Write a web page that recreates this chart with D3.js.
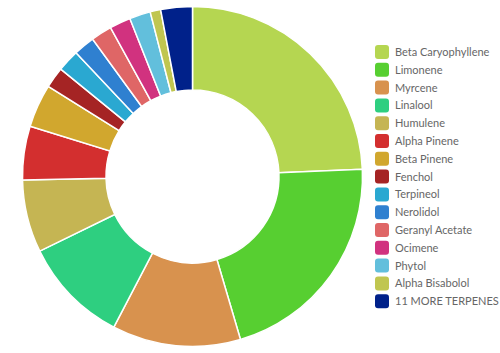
<!DOCTYPE html>
<html>
<head>
<meta charset="utf-8">
<script src="https://cdn.jsdelivr.net/npm/d3@7"></script>
<style>
  body { margin: 0; background: #fff; }
  svg { display: block; font-family: Lato, "Open Sans", sans-serif; }
</style>
</head>
<body>
<div id="chart"></div>
<script>
const terpenes = [
  "Beta Caryophyllene", "Limonene", "Myrcene", "Linalool", "Humulene",
  "Alpha Pinene", "Beta Pinene", "Fenchol", "Terpineol", "Nerolidol",
  "Geranyl Acetate", "Ocimene", "Phytol", "Alpha Bisabolol", "11 MORE TERPENES"
];
const shares = [24.3, 21.1, 12.2, 10.1, 6.9, 5.1, 4.1, 2.0, 2.1, 2.0, 2.0, 2.0, 2.0, 1.0, 3.0];
const colors = [
  "#b5d651", "#57cf31", "#d8924e", "#2ecf80", "#c5b553",
  "#d32f2f", "#d1a72e", "#a52424", "#2aa8d1", "#2f80d0",
  "#df6666", "#d1327f", "#62bfdc", "#c0c650", "#00218a"
];

(function () {
  const width = 500, height = 353;
  const cx = 192.5, cy = 176.5;
  const outerR = 170, innerR = 86.5;

  const svg = d3.select("#chart").append("svg")
    .attr("width", width)
    .attr("height", height);

  const data = terpenes.map((name, i) => ({ name, value: shares[i], color: colors[i] }));

  const pie = d3.pie().value(d => d.value).sort(null);
  const arc = d3.arc().innerRadius(innerR).outerRadius(outerR);

  const g = svg.append("g").attr("transform", `translate(${cx},${cy})`);

  g.selectAll("path")
    .data(pie(data))
    .join("path")
    .attr("d", arc)
    .attr("fill", d => d.data.color)
    .attr("stroke", "#fff")
    .attr("stroke-width", 1.5);

  // Legend
  const legend = svg.append("g").attr("transform", "translate(375, 45)");
  const row = legend.selectAll("g")
    .data(data)
    .join("g")
    .attr("transform", (d, i) => `translate(0, ${i * 17.8})`);

  row.append("rect")
    .attr("width", 14)
    .attr("height", 14)
    .attr("rx", 3)
    .attr("fill", d => d.color);

  row.append("text")
    .attr("x", 20)
    .attr("y", 11)
    .attr("font-size", "11px")
    .attr("fill", "#666")
    .text(d => d.name);
})();
</script>
</body>
</html>
